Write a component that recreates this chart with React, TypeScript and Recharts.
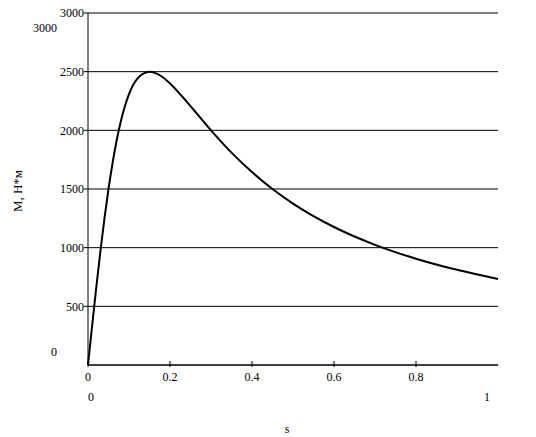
import React from "react";
import { LineChart, Line, XAxis, YAxis, CartesianGrid } from "recharts";

// slip values and torque
const slip = [0, 0.01, 0.02, 0.03, 0.04, 0.05, 0.06, 0.07, 0.08, 0.1, 0.12, 0.15, 0.18, 0.2, 0.25, 0.3, 0.35, 0.4, 0.45, 0.5, 0.6, 0.7, 0.8, 0.9, 1.0];
const torque = [0, 332, 655, 962, 1245, 1500, 1724, 1916, 2076, 2308, 2439, 2500, 2459, 2400, 2206, 2000, 1810, 1644, 1500, 1376, 1176, 1024, 906, 811, 733];

const xTicks = [0, 0.2, 0.4, 0.6, 0.8];
const yTicks = [500, 1000, 1500, 2000, 2500, 3000];

const FONT = "'Liberation Serif', 'Times New Roman', serif";

const XTick = (props: any) => {
  const { x, y, payload } = props;
  return (
    <g>
      <line x1={x} x2={x} y1={y - 4} y2={y + 2} stroke="#000" strokeWidth={1} />
      <text x={x} y={y + 16} textAnchor="middle" style={{ fontFamily: FONT, fontSize: 12 }} fill="#000">
        {payload.value}
      </text>
    </g>
  );
};

export default function App() {
  const data = slip.map((s, i) => ({ s, m: torque[i] }));

  return (
    <div style={{ position: "absolute", left: 0, top: 0, width: 536, height: 437, background: "#fff" }}>
      <LineChart width={536} height={437} data={data} margin={{ top: 13, right: 38, left: 28, bottom: 52 }}>
        <CartesianGrid vertical={false} stroke="#000" strokeWidth={1} />
        <XAxis
          dataKey="s"
          type="number"
          domain={[0, 1]}
          ticks={xTicks}
          stroke="#000"
          tickSize={0}
          tickMargin={0}
          tickLine={false}
          tick={<XTick />}
          height={20}
        />
        <YAxis
          type="number"
          domain={[0, 3000]}
          ticks={yTicks}
          width={60}
          stroke="#000"
          tickSize={4}
          tickMargin={0}
          tick={{ style: { fontFamily: FONT, fontSize: 12 }, fill: "#000" }}
        />
        <Line type="monotone" dataKey="m" stroke="#000" strokeWidth={2} dot={false} isAnimationActive={false} />
      </LineChart>
      <svg width={536} height={437} style={{ position: "absolute", left: 0, top: 0, pointerEvents: "none" }}>
        <g style={{ fontFamily: FONT, fontSize: 12 }} fill="#000">
          <text x={57} y={32} textAnchor="end">3000</text>
          <text x={57} y={356} textAnchor="end">0</text>
          <text x={91} y={401} textAnchor="middle">0</text>
          <text x={487} y={401} textAnchor="middle">1</text>
          <text x={287} y={433} textAnchor="middle">s</text>
          <text x={22} y={191} textAnchor="middle" style={{ fontSize: 13 }} transform="rotate(-90 22 191)">M, Н*м</text>
        </g>
      </svg>
    </div>
  );
}
